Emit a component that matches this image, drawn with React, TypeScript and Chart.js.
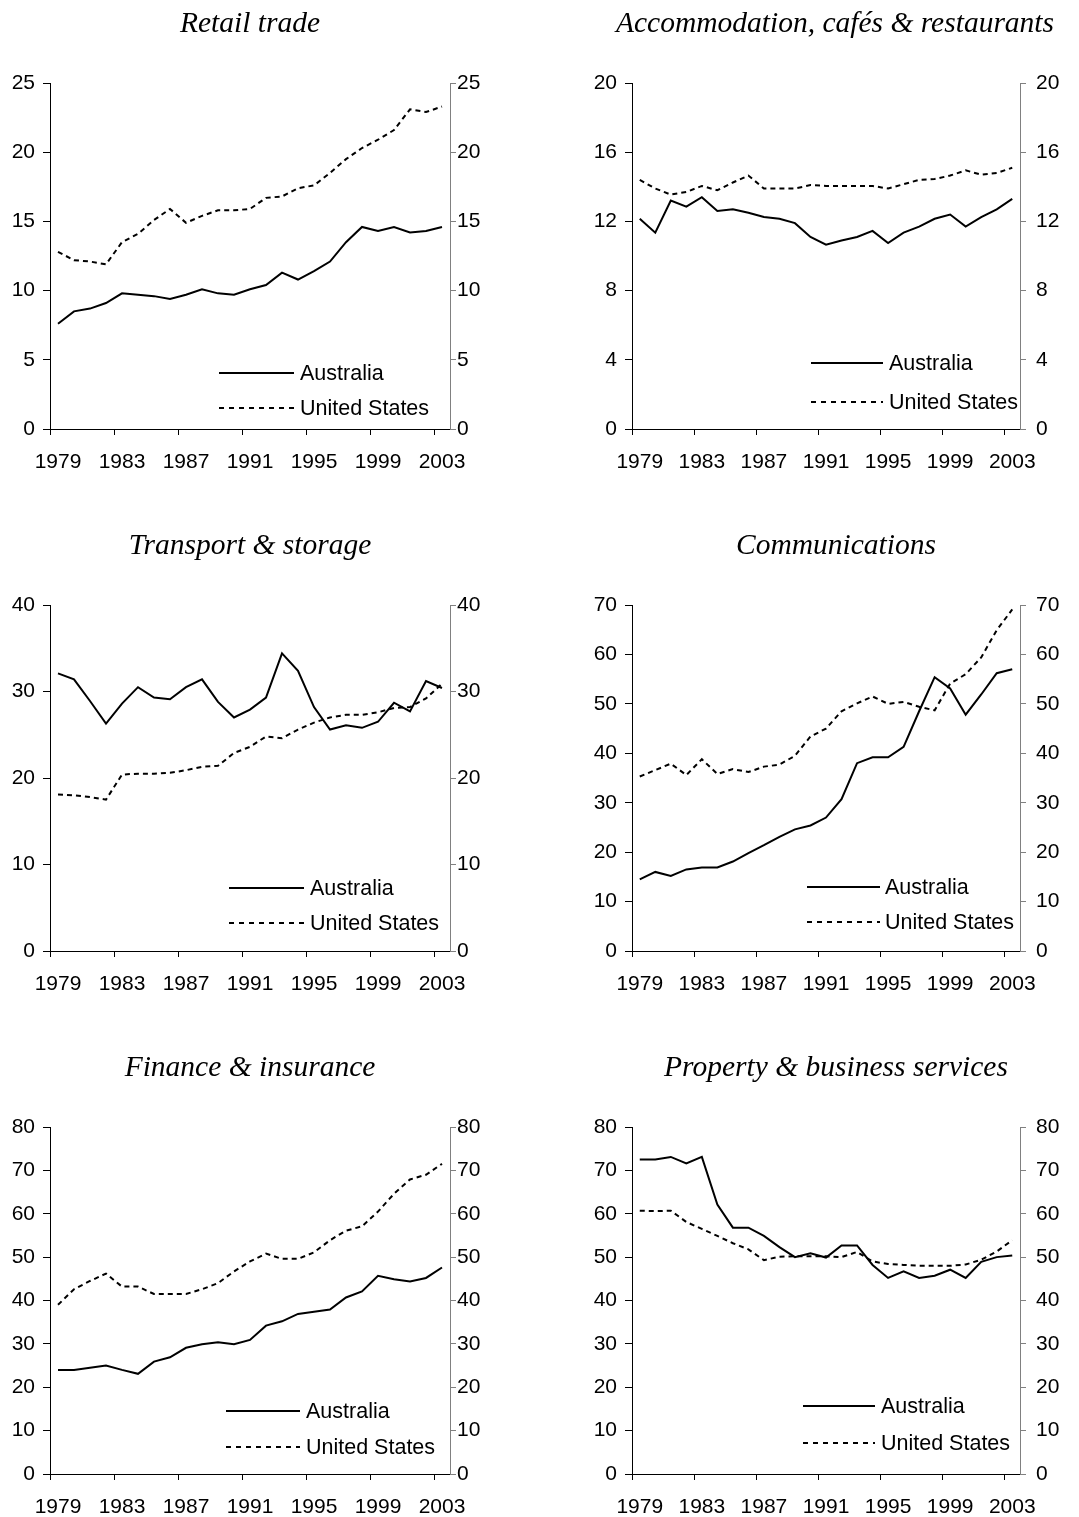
import React, { useEffect, useRef } from 'react';
import { Chart, registerables } from 'chart.js';

Chart.register(...registerables);

// ---------- DATA ----------
const years = ['1979','1980','1981','1982','1983','1984','1985','1986','1987','1988','1989','1990','1991','1992','1993','1994','1995','1996','1997','1998','1999','2000','2001','2002','2003'];
const seriesLabels = ['Australia', 'United States'];
const titles = ['Retail trade', 'Accommodation, cafés & restaurants', 'Transport & storage', 'Communications', 'Finance & insurance', 'Property & business services'];
const yMaxes = [25, 20, 40, 70, 80, 80];
const ySteps = [5, 4, 10, 10, 10, 10];

const retailAus = [7.6, 8.5, 8.7, 9.1, 9.8, 9.7, 9.6, 9.4, 9.7, 10.1, 9.8, 9.7, 10.1, 10.4, 11.3, 10.8, 11.4, 12.1, 13.5, 14.6, 14.3, 14.6, 14.2, 14.3, 14.6];
const retailUS = [12.8, 12.2, 12.1, 11.9, 13.5, 14.1, 15.1, 15.9, 14.9, 15.4, 15.8, 15.8, 15.9, 16.7, 16.8, 17.4, 17.6, 18.5, 19.5, 20.3, 20.9, 21.6, 23.1, 22.9, 23.3];

const accomAus = [12.15, 11.35, 13.2, 12.85, 13.4, 12.6, 12.7, 12.5, 12.25, 12.15, 11.9, 11.1, 10.65, 10.9, 11.1, 11.45, 10.75, 11.35, 11.7, 12.15, 12.4, 11.7, 12.25, 12.7, 13.3];
const accomUS = [14.4, 13.9, 13.55, 13.7, 14.05, 13.8, 14.25, 14.65, 13.9, 13.9, 13.9, 14.1, 14.05, 14.05, 14.05, 14.05, 13.9, 14.15, 14.4, 14.45, 14.65, 14.95, 14.7, 14.8, 15.1];

const transportAus = [32.1, 31.4, 28.9, 26.3, 28.6, 30.5, 29.3, 29.1, 30.5, 31.4, 28.8, 27.0, 27.9, 29.3, 34.4, 32.4, 28.2, 25.6, 26.1, 25.8, 26.5, 28.7, 27.7, 31.2, 30.4];
const transportUS = [18.1, 18.0, 17.8, 17.5, 20.4, 20.5, 20.5, 20.6, 20.9, 21.3, 21.4, 22.9, 23.6, 24.8, 24.6, 25.6, 26.4, 27.0, 27.3, 27.3, 27.6, 28.1, 28.2, 29.2, 30.9];

const commAus = [14.5, 16.0, 15.2, 16.5, 16.9, 16.9, 18.1, 19.8, 21.4, 23.1, 24.6, 25.4, 27.0, 30.7, 38.0, 39.2, 39.2, 41.3, 48.5, 55.4, 53.1, 47.8, 51.9, 56.2, 57.0];
const commUS = [35.3, 36.6, 37.9, 35.6, 38.8, 35.8, 36.8, 36.2, 37.3, 37.7, 39.5, 43.4, 45.0, 48.5, 50.1, 51.5, 50.0, 50.4, 49.4, 48.7, 54.1, 56.0, 59.4, 64.9, 69.1];

const financeAus = [24.0, 24.0, 24.5, 25.0, 24.0, 23.1, 25.9, 26.9, 29.1, 29.9, 30.4, 29.9, 30.9, 34.2, 35.2, 36.9, 37.4, 37.9, 40.7, 42.1, 45.7, 44.9, 44.4, 45.2, 47.6];
const financeUS = [39.0, 42.6, 44.5, 46.2, 43.2, 43.2, 41.5, 41.5, 41.5, 42.6, 44.0, 46.7, 49.0, 50.8, 49.6, 49.6, 51.1, 53.9, 56.1, 57.1, 60.5, 64.6, 67.9, 69.0, 71.5];

const propertyAus = [72.5, 72.5, 73.1, 71.6, 73.1, 62.1, 56.8, 56.8, 54.9, 52.3, 50.0, 50.9, 49.9, 52.7, 52.7, 48.2, 45.2, 46.7, 45.2, 45.7, 47.1, 45.2, 48.9, 50.0, 50.4];
const propertyUS = [60.7, 60.6, 60.7, 58.1, 56.5, 54.9, 53.2, 51.8, 49.3, 50.1, 50.2, 50.2, 50.2, 50.0, 51.2, 49.0, 48.4, 48.2, 48.0, 48.0, 48.0, 48.3, 49.4, 51.3, 53.9];

const ausSeries = [retailAus, accomAus, transportAus, commAus, financeAus, propertyAus];
const usSeries = [retailUS, accomUS, transportUS, commUS, financeUS, propertyUS];

// ---------- LAYOUT (positions / sizes only) ----------
type Panel = {
  left: number; top: number; w: number; h: number;
  padTop: number; axL: number; axR: number; axB: number; rPad: number;
  titleX: number;
  leg: { sx: number; sw: number; tx: number; y1: number; y2: number };
};

const panels: Panel[] = [
  { left: 0, top: 0, w: 540, h: 500, padTop: 83, axL: 50, axR: 90, axB: 71, rPad: 1, titleX: 250, leg: { sx: 169, sw: 75, tx: 250, y1: 290, y2: 325 } },
  { left: 540, top: 0, w: 539, h: 500, padTop: 83, axL: 92, axR: 59, axB: 71, rPad: 10, titleX: 295, leg: { sx: 179, sw: 72, tx: 257, y1: 280, y2: 319 } },
  { left: 0, top: 520, w: 540, h: 500, padTop: 85, axL: 50, axR: 90, axB: 69, rPad: 1, titleX: 250, leg: { sx: 179, sw: 75, tx: 260, y1: 283, y2: 318 } },
  { left: 540, top: 520, w: 539, h: 500, padTop: 85, axL: 92, axR: 59, axB: 69, rPad: 10, titleX: 296, leg: { sx: 175, sw: 73, tx: 253, y1: 282, y2: 317 } },
  { left: 0, top: 1040, w: 540, h: 477, padTop: 87, axL: 50, axR: 90, axB: 43, rPad: 1, titleX: 250, leg: { sx: 176, sw: 74, tx: 256, y1: 284, y2: 320 } },
  { left: 540, top: 1040, w: 539, h: 477, padTop: 87, axL: 92, axR: 59, axB: 43, rPad: 10, titleX: 296, leg: { sx: 171, sw: 72, tx: 249, y1: 279, y2: 316 } },
];

const SANS = '"Liberation Sans", Arial, Helvetica, sans-serif';
const SERIF = '"Liberation Serif", "Times New Roman", serif';
const US_DASH = [5, 4];
const LEG_DASH = [5, 5];

function Panel({ idx }: { idx: number }) {
  const ref = useRef<HTMLCanvasElement | null>(null);
  const p = panels[idx];

  useEffect(() => {
    if (!ref.current) return;
    const title = titles[idx];
    const overlay = {
      id: 'overlay' + idx,
      afterDraw(chart: any) {
        const { ctx, chartArea } = chart;
        ctx.save();
        chart.data.datasets.forEach((ds: any, k: number) => {
          const y = chartArea.top + (k === 0 ? p.leg.y1 : p.leg.y2);
          const x0 = chartArea.left + p.leg.sx;
          ctx.beginPath();
          ctx.setLineDash(k === 0 ? [] : LEG_DASH);
          ctx.lineWidth = 2;
          ctx.strokeStyle = '#000';
          ctx.moveTo(x0, y);
          ctx.lineTo(x0 + p.leg.sw, y);
          ctx.stroke();
          ctx.setLineDash([]);
          ctx.font = '21.5px ' + SANS;
          ctx.textBaseline = 'middle';
          ctx.textAlign = 'left';
          ctx.fillStyle = '#000';
          ctx.fillText(ds.label, chartArea.left + p.leg.tx, y + 1);
        });
        ctx.font = 'italic 29.5px ' + SERIF;
        ctx.textAlign = 'center';
        ctx.textBaseline = 'middle';
        ctx.fillStyle = '#000';
        ctx.fillText(title, p.titleX, chartArea.top - 59);
        ctx.restore();
      },
    };

    const tickFont = { family: SANS, size: 21 };
    const chart = new Chart(ref.current, {
      type: 'line',
      data: {
        labels: years,
        datasets: [
          { label: seriesLabels[0], data: ausSeries[idx], borderColor: '#000', borderWidth: 2, pointRadius: 0, fill: false, tension: 0, yAxisID: 'y' },
          { label: seriesLabels[1], data: usSeries[idx], borderColor: '#000', borderWidth: 2, borderDash: US_DASH, pointRadius: 0, fill: false, tension: 0, yAxisID: 'y' },
        ],
      },
      options: {
        responsive: false,
        animation: false,
        devicePixelRatio: 1,
        layout: { padding: { top: p.padTop, left: 0, right: 0, bottom: 0 } },
        plugins: { legend: { display: false }, tooltip: { enabled: false }, title: { display: false } },
        scales: {
          x: {
            type: 'category',
            offset: true,
            grid: {
              offset: true,
              drawOnChartArea: false,
              drawTicks: true,
              tickLength: 6,
              color: (c: any) => (c.index % 4 === 0 && c.index < years.length ? '#000' : 'rgba(0,0,0,0)'),
              tickColor: (c: any) => (c.index % 4 === 0 && c.index < years.length ? '#000' : 'rgba(0,0,0,0)'),
            },
            border: { display: true, color: '#000', width: 1 },
            ticks: {
              autoSkip: false,
              maxRotation: 0,
              minRotation: 0,
              padding: 15,
              color: '#000',
              font: tickFont,
              callback: (_v: any, i: number) => (i % 4 === 0 ? years[i] : ''),
            },
            afterFit: (s: any) => { s.height = p.axB; },
          },
          y: {
            position: 'left',
            min: 0,
            max: yMaxes[idx],
            grid: { drawOnChartArea: false, tickLength: 7, color: '#000' },
            border: { display: true, color: '#000', width: 1 },
            ticks: { stepSize: ySteps[idx], padding: 8, color: '#000', font: tickFont },
            afterFit: (s: any) => { s.width = p.axL; },
          },
          y2: {
            position: 'right',
            min: 0,
            max: yMaxes[idx],
            grid: { drawOnChartArea: false, tickLength: 6, color: '#808080' },
            border: { display: true, color: '#808080', width: 1 },
            ticks: { stepSize: ySteps[idx], padding: p.rPad, color: '#000', font: tickFont },
            afterFit: (s: any) => { s.width = p.axR; },
          },
        },
      } as any,
      plugins: [overlay],
    });
    return () => chart.destroy();
  }, [idx]);

  return (
    <canvas
      ref={ref}
      width={p.w}
      height={p.h}
      style={{ position: 'absolute', left: p.left, top: p.top, width: p.w, height: p.h }}
    />
  );
}

export default function App() {
  return (
    <div style={{ position: 'absolute', left: 0, top: 0, width: 1079, height: 1517, background: '#fff' }}>
      {panels.map((_, i) => (
        <Panel key={i} idx={i} />
      ))}
    </div>
  );
}
